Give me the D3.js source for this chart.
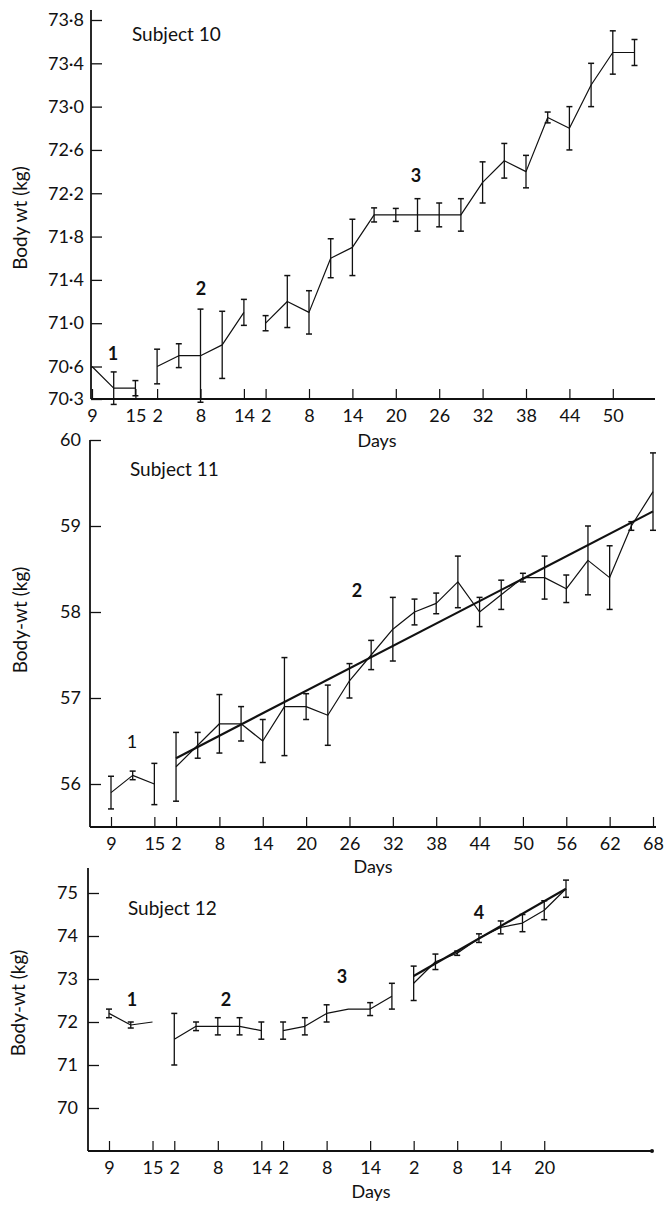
<!DOCTYPE html>
<html>
<head>
<meta charset="utf-8">
<script src="https://cdn.jsdelivr.net/npm/d3@7"></script>
<style>
  body { margin: 0; background: white; }
  text { font-family: Lato, "Open Sans", sans-serif; fill: #111; }
</style>
</head>
<body>
<div id="chart"></div>
<script>
// Subject 10 - mean body weight (kg) and error, one array per period
const s10Days = [[9, 12, 15], [2, 5, 8, 11, 14],
  [2, 5, 8, 11, 14, 17, 20, 23, 26, 29, 32, 35, 38, 41, 44, 47, 50, 53]];
const s10Means = [[70.6, 70.4, 70.4], [70.6, 70.7, 70.7, 70.8, 71.1],
  [71.0, 71.2, 71.1, 71.6, 71.7, 72.0, 72.0, 72.0, 72.0, 72.0, 72.3, 72.5, 72.4, 72.9, 72.8, 73.2, 73.5, 73.5]];
const s10Errors = [[0, 0.15, 0.07], [0.16, 0.11, 0.43, 0.31, 0.12],
  [0.07, 0.24, 0.2, 0.18, 0.26, 0.065, 0.06, 0.15, 0.11, 0.15, 0.19, 0.16, 0.15, 0.05, 0.2, 0.2, 0.2, 0.12]];
const s10Ticks = [[9, 15], [2, 8, 14], [2, 8, 14, 20, 26, 32, 38, 44, 50]];
const s10YTicks = [70.3, 70.6, 71.0, 71.4, 71.8, 72.2, 72.6, 73.0, 73.4, 73.8];

// Subject 11
const s11Days = [[9, 12, 15],
  [2, 5, 8, 11, 14, 17, 20, 23, 26, 29, 32, 35, 38, 41, 44, 47, 50, 53, 56, 59, 62, 65, 68]];
const s11Means = [[55.9, 56.1, 56.0],
  [56.2, 56.45, 56.7, 56.7, 56.5, 56.9, 56.9, 56.8, 57.2, 57.5, 57.8, 58.0, 58.1, 58.35, 58.0, 58.2, 58.4, 58.4, 58.27, 58.6, 58.4, 59.0, 59.4]];
const s11Errors = [[0.19, 0.05, 0.24],
  [0.4, 0.15, 0.34, 0.2, 0.25, 0.57, 0.15, 0.35, 0.2, 0.17, 0.37, 0.15, 0.12, 0.3, 0.17, 0.17, 0.05, 0.25, 0.16, 0.4, 0.37, 0.05, 0.45]];
const s11Fit = [null, [56.3, 59.17]];   // fitted line, start and end of period
const s11Ticks = [[9, 15], [2, 8, 14, 20, 26, 32, 38, 44, 50, 56, 62, 68]];
const s11YTicks = [56, 57, 58, 59, 60];

// Subject 12
const s12Days = [[9, 12, 15], [2, 5, 8, 11, 14], [2, 5, 8, 11, 14, 17],
  [2, 5, 8, 11, 14, 17, 20, 23]];
const s12Means = [[72.2, 71.93, 72.0], [71.6, 71.9, 71.9, 71.9, 71.8],
  [71.8, 71.9, 72.2, 72.3, 72.3, 72.6], [72.9, 73.4, 73.6, 73.95, 74.2, 74.3, 74.6, 75.1]];
const s12Errors = [[0.1, 0.07, 0], [0.6, 0.1, 0.2, 0.2, 0.2],
  [0.2, 0.2, 0.2, 0, 0.15, 0.3], [0.4, 0.18, 0.05, 0.1, 0.15, 0.2, 0.22, 0.2]];
const s12Fit = [null, null, null, [73.07, 75.1]];
const s12Ticks = [[9, 15], [2, 8, 14], [2, 8, 14], [2, 8, 14, 20]];
const s12YTicks = [70, 71, 72, 73, 74, 75];

const svg = d3.select('#chart')
  .append('svg')
  .attr('width', 665)
  .attr('height', 1206)
  .style('background', 'white');

function drawPanel(p) {
  const g = svg.append('g');

  // every observation gets the next slot on the x axis, periods run on
  let n = 0;
  const periods = p.days.map((days, k) => days.map((day, i) => ({
    slot: n++, day: day, mean: p.means[k][i], err: p.errors[k][i]
  })));
  const slotOf = (k, day) => periods[k][0].slot + (day - periods[k][0].day) / 3;

  const x = d3.scaleLinear().domain([0, n - 1]).range(p.xRange);
  const y = d3.scaleLinear().domain(p.yDomain).range(p.yRange);
  const bottom = p.yRange[0];

  // axis lines
  g.append('line')
    .attr('x1', p.axisX).attr('x2', p.axisX)
    .attr('y1', p.axisTop).attr('y2', bottom)
    .attr('stroke', '#111').attr('stroke-width', 1.8);
  g.append('line')
    .attr('x1', p.axisX).attr('x2', p.axisRight)
    .attr('y1', bottom).attr('y2', bottom)
    .attr('stroke', '#111').attr('stroke-width', 2.2);
  if (p.endDot) {
    g.append('circle').attr('cx', p.axisRight).attr('cy', bottom).attr('r', 2).attr('fill', '#111');
  }

  // y axis, ticks pointing inwards
  const yAxis = g.append('g')
    .attr('transform', `translate(${p.axisX},0)`)
    .call(d3.axisLeft(y).tickValues(p.yTicks).tickFormat(p.yFormat)
      .tickSize(-11).tickSizeOuter(0).tickPadding(p.yPad));
  yAxis.select('.domain').remove();
  yAxis.selectAll('line').attr('stroke', '#111').attr('stroke-width', 1.3);
  yAxis.selectAll('text').attr('font-size', 18).attr('fill', '#111')
    .style('font-family', 'Lato, sans-serif');

  // x axis, labelled by day within each period
  const tickSlots = [], tickNames = [];
  p.ticks.forEach((days, k) => days.forEach(day => {
    tickSlots.push(slotOf(k, day));
    tickNames.push(String(day));
  }));
  const xAxis = g.append('g')
    .attr('transform', `translate(0,${bottom})`)
    .call(d3.axisBottom(x).tickValues(tickSlots).tickFormat((d, i) => tickNames[i])
      .tickSize(-10).tickSizeOuter(0).tickPadding(p.xPad));
  xAxis.select('.domain').remove();
  xAxis.selectAll('line').attr('stroke', '#111').attr('stroke-width', 1.2);
  xAxis.selectAll('text').attr('font-size', 18).attr('fill', '#111')
    .style('font-family', 'Lato, sans-serif');

  const line = d3.line().x(d => x(d.slot)).y(d => y(d.mean));

  periods.forEach((pts, k) => {
    g.append('path')
      .datum(pts)
      .attr('fill', 'none')
      .attr('stroke', '#111')
      .attr('stroke-width', 1.2)
      .attr('stroke-linejoin', 'round')
      .attr('d', line);

    // error bars with caps
    pts.filter(d => d.err > 0).forEach(d => {
      const cx = x(d.slot);
      g.append('line')
        .attr('x1', cx).attr('x2', cx)
        .attr('y1', y(d.mean - d.err)).attr('y2', y(d.mean + d.err))
        .attr('stroke', '#111').attr('stroke-width', 1.3);
      [d.mean - d.err, d.mean + d.err].forEach(v => {
        g.append('line')
          .attr('x1', cx - 3).attr('x2', cx + 3)
          .attr('y1', y(v)).attr('y2', y(v))
          .attr('stroke', '#111').attr('stroke-width', 1.5);
      });
    });

    // fitted regression line
    if (p.fit && p.fit[k]) {
      g.append('line')
        .attr('x1', x(pts[0].slot)).attr('x2', x(pts[pts.length - 1].slot))
        .attr('y1', y(p.fit[k][0])).attr('y2', y(p.fit[k][1]))
        .attr('stroke', '#111').attr('stroke-width', 2.2);
    }
  });

  // texts
  g.append('text')
    .attr('x', p.title[1]).attr('y', p.title[2])
    .attr('font-size', 19)
    .text(p.title[0]);

  g.append('text')
    .attr('transform', `translate(${p.yLabel[1]},${p.yLabel[2]}) rotate(-90)`)
    .attr('text-anchor', 'middle')
    .attr('font-size', 19)
    .text(p.yLabel[0]);

  g.append('text')
    .attr('x', p.days_[0]).attr('y', p.days_[1])
    .attr('text-anchor', 'middle')
    .attr('font-size', 18)
    .text('Days');

  p.periodLabels.forEach(l => {
    g.append('text')
      .attr('x', l[1]).attr('y', l[2])
      .attr('text-anchor', 'middle')
      .attr('font-size', 18)
      .attr('font-weight', l[3] ? 'bold' : 'normal')
      .text(l[0]);
  });
}

const dotFormat = d => d.toFixed(1).replace('.', '\u00b7');

drawPanel({
  days: s10Days, means: s10Means, errors: s10Errors, ticks: s10Ticks,
  yTicks: s10YTicks, yFormat: dotFormat,
  xRange: [92, 634.5], yDomain: [70.3, 73.8], yRange: [399, 20],
  axisX: 91, axisTop: 10, axisRight: 655, yPad: 7, xPad: 10,
  title: ['Subject 10', 132, 41], yLabel: ['Body wt (kg)', 27, 218], days_: [377, 447],
  periodLabels: [['1', 113, 360, true], ['2', 201, 295, true], ['3', 416, 182, true]]
});

drawPanel({
  days: s11Days, means: s11Means, errors: s11Errors, ticks: s11Ticks, fit: s11Fit,
  yTicks: s11YTicks, yFormat: d3.format('d'),
  xRange: [111, 653], yDomain: [55.5, 60], yRange: [827, 440],
  axisX: 90, axisTop: 440, axisRight: 656, yPad: 9, xPad: 10,
  title: ['Subject 11', 130, 476], yLabel: ['Body-wt (kg)', 27, 620], days_: [373, 873],
  periodLabels: [['1', 132, 748, false], ['2', 357, 597, true]]
});

drawPanel({
  days: s12Days, means: s12Means, errors: s12Errors, ticks: s12Ticks, fit: s12Fit,
  yTicks: s12YTicks, yFormat: d3.format('d'),
  xRange: [109, 566], yDomain: [69, 75], yRange: [1151, 893],
  axisX: 88, axisTop: 868, axisRight: 652, endDot: true, yPad: 10, xPad: 10,
  title: ['Subject 12', 128, 915], yLabel: ['Body-wt (kg)', 25, 1003], days_: [371, 1198],
  periodLabels: [['1', 132, 1006, true], ['2', 226, 1006, true], ['3', 342, 983, true], ['4', 479, 919, true]]
});
</script>
</body>
</html>
